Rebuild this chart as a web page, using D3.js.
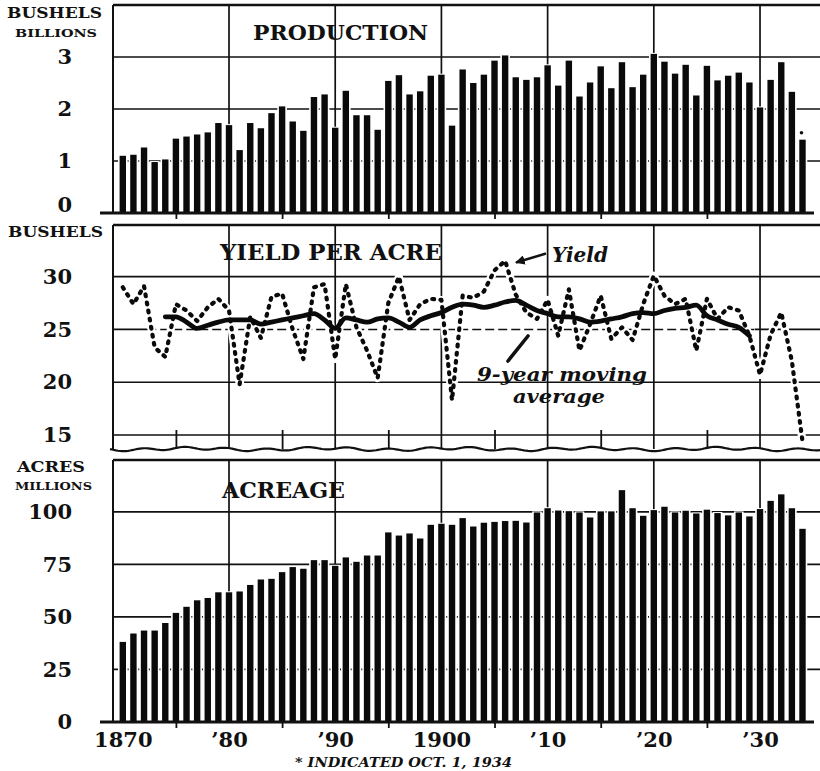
<!DOCTYPE html>
<html>
<head>
<meta charset="utf-8">
<title>Corn: production, yield per acre, acreage 1870-1934</title>
<script src="https://cdnjs.cloudflare.com/ajax/libs/d3/7.8.5/d3.min.js"></script>
<style>
  body { margin: 0; background: #fff; }
  svg { display: block; }
  text { font-family: "DejaVu Serif", "Liberation Serif", serif; font-weight: bold; fill: #111; }
</style>
</head>
<body>
<script>
// one bar / point per crop year
var years = [1870,1871,1872,1873,1874,1875,1876,1877,1878,1879,
             1880,1881,1882,1883,1884,1885,1886,1887,1888,1889,
             1890,1891,1892,1893,1894,1895,1896,1897,1898,1899,
             1900,1901,1902,1903,1904,1905,1906,1907,1908,1909,
             1910,1911,1912,1913,1914,1915,1916,1917,1918,1919,
             1920,1921,1922,1923,1924,1925,1926,1927,1928,1929,
             1930,1931,1932,1933,1934];

// production, billions of bushels (1934 = indicated Oct. 1)
var production = [1.10,1.12,1.26,0.98,1.03,1.43,1.47,1.51,1.55,1.73,
                  1.69,1.21,1.73,1.63,1.92,2.05,1.76,1.58,2.23,2.28,
                  1.64,2.35,1.88,1.88,1.60,2.54,2.65,2.28,2.34,2.64,
                  2.66,1.68,2.76,2.50,2.66,2.93,3.03,2.61,2.56,2.61,
                  2.84,2.45,2.93,2.24,2.51,2.82,2.40,2.90,2.42,2.66,
                  3.06,2.91,2.68,2.85,2.26,2.83,2.55,2.64,2.70,2.51,
                  2.03,2.56,2.90,2.33,1.41];

// yield per acre, bushels
var yieldPerAcre = [29.0,27.4,29.1,23.3,22.4,27.4,26.8,25.8,27.1,27.9,
                    26.8,19.8,26.2,24.2,28.1,28.4,25.0,22.2,29.0,29.3,
                    22.2,29.3,25.2,23.0,20.4,27.5,30.0,25.9,27.4,27.9,
                    27.8,18.3,28.2,28.0,28.6,30.6,31.5,28.3,26.6,26.0,
                    27.8,24.4,28.8,23.0,25.5,28.2,24.1,25.2,24.0,27.4,
                    30.1,28.2,27.4,27.9,23.0,27.9,26.0,27.1,26.8,24.4,
                    20.7,24.5,26.6,22.0,14.4];

// 9-year moving average, centred, 1874 - 1929
var avgYears = years.slice(4, 60);
var movingAverage = [26.2,26.2,25.7,25.1,25.4,25.7,25.9,25.9,25.9,25.5,
                     25.7,25.9,26.1,26.3,26.5,25.9,25.1,26.1,25.9,25.7,
                     26.0,26.1,25.7,25.2,25.9,26.3,26.6,27.1,27.4,27.3,
                     27.1,27.3,27.6,27.75,27.3,26.8,26.5,26.2,26.2,26.0,
                     25.7,25.8,26.0,26.2,26.5,26.6,26.5,26.8,27.0,27.1,
                     27.3,26.3,25.9,25.5,25.2,24.4];

// acreage, millions of acres
var acreage = [38.1,42.1,43.5,43.5,47.1,51.9,54.8,57.9,59.0,61.7,
               61.7,62.1,65.2,67.8,68.1,71.3,73.7,72.9,77.0,77.0,
               74.3,78.3,76.2,79.2,79.2,90.2,88.7,89.7,87.3,93.8,
               94.3,93.8,97.0,93.0,94.8,95.2,95.6,95.7,94.9,99.7,
               101.7,100.6,100.3,99.7,97.3,100.2,100.2,110.3,101.7,98.1,
               100.8,102.4,99.7,100.5,99.2,101.0,99.4,98.3,99.7,97.8,
               101.3,105.2,108.3,101.7,91.9];

var prodTicks = [0, 1, 2, 3];
var yieldTicks = [15, 20, 25, 30];
var acreTicks = [0, 25, 50, 75, 100];
var yearTicks = [1870, 1880, 1890, 1900, 1910, 1920, 1930];
var yearLabels = ['1870', '\u201980', '\u201990', '1900', '\u201910', '\u201920', '\u201930'];
var decadeLines = [1880, 1890, 1900, 1910, 1920, 1930];
var halfDecades = [1875, 1885, 1895, 1905, 1915, 1925];

var W = 820, H = 771,
    left = 113, right = 820;

var x = d3.scaleLinear().domain([1870, 1934]).range([122.8, 802.5]);
var step = x(1871) - x(1870),
    barW = 6.4,
    slotW = step - 1;

var svg = d3.select('body').append('svg')
    .attr('width', W)
    .attr('height', H);

// left-hand value labels, drawn with d3.axisLeft
function valueAxis(g, y, ticks) {
  var ax = g.append('g')
      .attr('transform', 'translate(' + left + ',0)')
      .call(d3.axisLeft(y)
          .tickValues(ticks)
          .tickFormat(d3.format('d'))
          .tickSize(0)
          .tickPadding(41));
  ax.select('.domain').remove();
  ax.selectAll('text')
      .attr('font-family', '"DejaVu Serif", serif')
      .attr('font-weight', 'bold')
      .attr('font-size', 21)
      .attr('fill', '#111');
  return ax;
}

// short ticks under an axis at the half decades
function halfTicks(g, yPos, len) {
  var ax = g.append('g')
      .attr('transform', 'translate(0,' + yPos + ')')
      .call(d3.axisBottom(x).tickValues(halfDecades).tickSize(len).tickFormat(''));
  ax.select('.domain').remove();
  ax.selectAll('line').attr('stroke', '#111').attr('stroke-width', 1.8);
}

function frame(g, top, bottom, baseline) {
  g.append('line').attr('x1', left).attr('x2', right).attr('y1', top).attr('y2', top)
      .attr('stroke', '#111').attr('stroke-width', 2.6);
  g.append('line').attr('x1', left).attr('x2', left).attr('y1', top).attr('y2', bottom)
      .attr('stroke', '#111').attr('stroke-width', 2);
  if (baseline) {
    g.append('line').attr('x1', 100).attr('x2', right - 6).attr('y1', bottom).attr('y2', bottom)
        .attr('stroke', '#111').attr('stroke-width', 3);
  }
}

/*
 * bar panel: grid first, then a white slot under every bar so the grid
 * only shows above the bars (as in the printed chart), then the bars
 */
function barPanel(data, y, top, bottom, ticks) {
  var g = svg.append('g');

  g.selectAll('.hgrid')
      .data(ticks.filter(function(d) { return d > 0; }))
      .enter().append('line')
      .attr('x1', left).attr('x2', right)
      .attr('y1', function(d) { return y(d); })
      .attr('y2', function(d) { return y(d); })
      .attr('stroke', '#111').attr('stroke-width', 1.7);

  g.selectAll('.vgrid')
      .data(decadeLines)
      .enter().append('line')
      .attr('x1', function(d) { return x(d); })
      .attr('x2', function(d) { return x(d); })
      .attr('y1', top).attr('y2', bottom)
      .attr('stroke', '#111').attr('stroke-width', 1.7);

  g.selectAll('.slot')
      .data(data)
      .enter().append('rect')
      .attr('x', function(d, i) { return x(years[i]) - slotW / 2; })
      .attr('y', function(d) { return y(d) - 1; })
      .attr('width', slotW)
      .attr('height', function(d) { return bottom - y(d) + 1; })
      .attr('fill', '#fff');

  g.selectAll('.bar')
      .data(data)
      .enter().append('rect')
      .attr('x', function(d, i) { return x(years[i]) - barW / 2; })
      .attr('y', function(d) { return y(d); })
      .attr('width', barW)
      .attr('height', function(d) { return bottom - y(d); })
      .attr('fill', '#0a0a0a');

  frame(g, top, bottom, true);
  halfTicks(g, bottom, 6);
  return g;
}

// ---------- production ----------
var yProd = d3.scaleLinear().domain([0, 4]).range([213, 5]);
var prodG = barPanel(production, yProd, 5, 213, prodTicks);
var prodAxis = valueAxis(prodG, yProd, prodTicks);
prodAxis.selectAll('.tick')
    .filter(function(d) { return d === 0; })
    .select('text').attr('dy', '-0.05em');

// asterisk mark over the estimated 1934 crop
prodG.append('circle')
    .attr('cx', x(1934) - 1)
    .attr('cy', yProd(production[64]) - 7)
    .attr('r', 1.8)
    .attr('fill', '#111');

// ---------- yield per acre ----------
var yTop = 225, yBottom = 449;
var yYield = d3.scaleLinear().domain([15, 30]).range([435, 276.7]);
var yieldG = svg.append('g');

yieldG.selectAll('.hgrid')
    .data([15, 20, 30])
    .enter().append('line')
    .attr('x1', left).attr('x2', right)
    .attr('y1', function(d) { return yYield(d); })
    .attr('y2', function(d) { return yYield(d); })
    .attr('stroke', '#111').attr('stroke-width', 1.7);

// the 25 line is broken where the average runs along it
yieldG.append('line')
    .attr('x1', left).attr('x2', x(1872.3))
    .attr('y1', yYield(25)).attr('y2', yYield(25))
    .attr('stroke', '#111').attr('stroke-width', 1.7);
yieldG.append('line')
    .attr('x1', x(1872.3)).attr('x2', x(1929.5))
    .attr('y1', yYield(25)).attr('y2', yYield(25))
    .attr('stroke', '#111').attr('stroke-width', 1.4)
    .attr('stroke-dasharray', '9,4');
yieldG.append('line')
    .attr('x1', x(1929.5)).attr('x2', right)
    .attr('y1', yYield(25)).attr('y2', yYield(25))
    .attr('stroke', '#111').attr('stroke-width', 1.7);

yieldG.selectAll('.vgrid')
    .data(decadeLines)
    .enter().append('line')
    .attr('x1', function(d) { return x(d); })
    .attr('x2', function(d) { return x(d); })
    .attr('y1', yTop).attr('y2', yBottom)
    .attr('stroke', '#111').attr('stroke-width', 1.7);

halfTicks(yieldG, 430, yBottom - 430);

var yieldLine = d3.line()
    .x(function(d, i) { return x(years[i]); })
    .y(function(d) { return yYield(d); });

var avgLine = d3.line()
    .x(function(d, i) { return x(avgYears[i]); })
    .y(function(d) { return yYield(d); })
    .curve(d3.curveMonotoneX);

// white halo so the grid breaks around the curves
yieldG.append('path')
    .datum(yieldPerAcre)
    .attr('d', yieldLine)
    .attr('fill', 'none')
    .attr('stroke', '#fff')
    .attr('stroke-width', 8)
    .attr('stroke-linejoin', 'round');

yieldG.append('path')
    .datum(movingAverage)
    .attr('d', avgLine)
    .attr('fill', 'none')
    .attr('stroke', '#0a0a0a')
    .attr('stroke-width', 4.8)
    .attr('stroke-linejoin', 'round')
    .attr('stroke-linecap', 'round');

yieldG.append('path')
    .datum(yieldPerAcre)
    .attr('d', yieldLine)
    .attr('fill', 'none')
    .attr('stroke', '#0a0a0a')
    .attr('stroke-width', 4.2)
    .attr('stroke-linecap', 'round')
    .attr('stroke-linejoin', 'round')
    .attr('stroke-dasharray', '1.8,6.4');

frame(yieldG, yTop, yBottom, false);

// broken-scale wavy line along the bottom of the yield panel
var wave = d3.range(left - 3, right + 1, 2).map(function(px) {
  var t = px - left;
  return [px, yBottom + 1.3 * Math.sin(t / 6.5) + 0.9 * Math.sin(t / 21 + 1)];
});
yieldG.append('path')
    .attr('d', d3.line()(wave))
    .attr('fill', 'none')
    .attr('stroke', '#111')
    .attr('stroke-width', 2.2);

valueAxis(yieldG, yYield, yieldTicks);

// annotations
var defs = svg.append('defs');
defs.append('marker')
    .attr('id', 'head')
    .attr('viewBox', '0 0 10 10')
    .attr('refX', 9).attr('refY', 5)
    .attr('markerWidth', 4).attr('markerHeight', 4)
    .attr('orient', 'auto')
    .append('path')
    .attr('d', 'M0,0 L10,5 L0,10 z')
    .attr('fill', '#111');

yieldG.append('line')
    .attr('x1', 546).attr('y1', 253.5)
    .attr('x2', 516).attr('y2', 262.5)
    .attr('stroke', '#111').attr('stroke-width', 2.4)
    .attr('marker-end', 'url(#head)');

yieldG.append('text')
    .attr('x', 552).attr('y', 262)
    .attr('font-size', 20).attr('font-style', 'italic')
    .attr('textLength', 56).attr('lengthAdjust', 'spacingAndGlyphs')
    .text('Yield');

yieldG.append('line')
    .attr('x1', 508).attr('y1', 361)
    .attr('x2', 528).attr('y2', 336)
    .attr('stroke', '#111').attr('stroke-width', 3.6)
    .attr('stroke-linecap', 'round');

yieldG.append('text')
    .attr('x', 477).attr('y', 381)
    .attr('font-size', 19).attr('font-style', 'italic')
    .attr('textLength', 170).attr('lengthAdjust', 'spacingAndGlyphs')
    .text('9-year moving');

yieldG.append('text')
    .attr('x', 513).attr('y', 403)
    .attr('font-size', 19).attr('font-style', 'italic')
    .attr('textLength', 92).attr('lengthAdjust', 'spacingAndGlyphs')
    .text('average');

// ---------- acreage ----------
var yAcre = d3.scaleLinear().domain([0, 100]).range([722, 511.8]);
var acreG = barPanel(acreage, yAcre, 460, 722, acreTicks);
valueAxis(acreG, yAcre, acreTicks);

// year labels along the bottom
var xAxis = svg.append('g')
    .attr('transform', 'translate(0,722)')
    .call(d3.axisBottom(x)
        .tickValues(yearTicks)
        .tickFormat(function(d, i) { return yearLabels[i]; })
        .tickSize(0)
        .tickPadding(10));
xAxis.select('.domain').remove();
xAxis.selectAll('text')
    .attr('font-family', '"DejaVu Serif", serif')
    .attr('font-weight', 'bold')
    .attr('font-size', 21)
    .attr('fill', '#111');

// ---------- titles and units ----------
function label(txt, px, py, size, len, italic) {
  var t = svg.append('text')
      .attr('x', px).attr('y', py)
      .attr('font-size', size)
      .attr('textLength', len)
      .attr('lengthAdjust', 'spacingAndGlyphs')
      .text(txt);
  if (italic) t.attr('font-style', 'italic');
  return t;
}

label('PRODUCTION', 253, 40, 21, 175);
label('YIELD PER ACRE', 220, 260, 22, 222);
label('ACREAGE', 222, 498, 22, 123);

label('BUSHELS', 7, 18, 14, 95);
label('BILLIONS', 15, 37, 11.5, 82);
label('BUSHELS', 8, 237, 14.5, 95);
label('ACRES', 17, 472, 14, 68);
label('MILLIONS', 15, 490, 11.5, 77);

label('* INDICATED OCT. 1, 1934', 295, 767, 12, 217, true);
</script>
</body>
</html>
